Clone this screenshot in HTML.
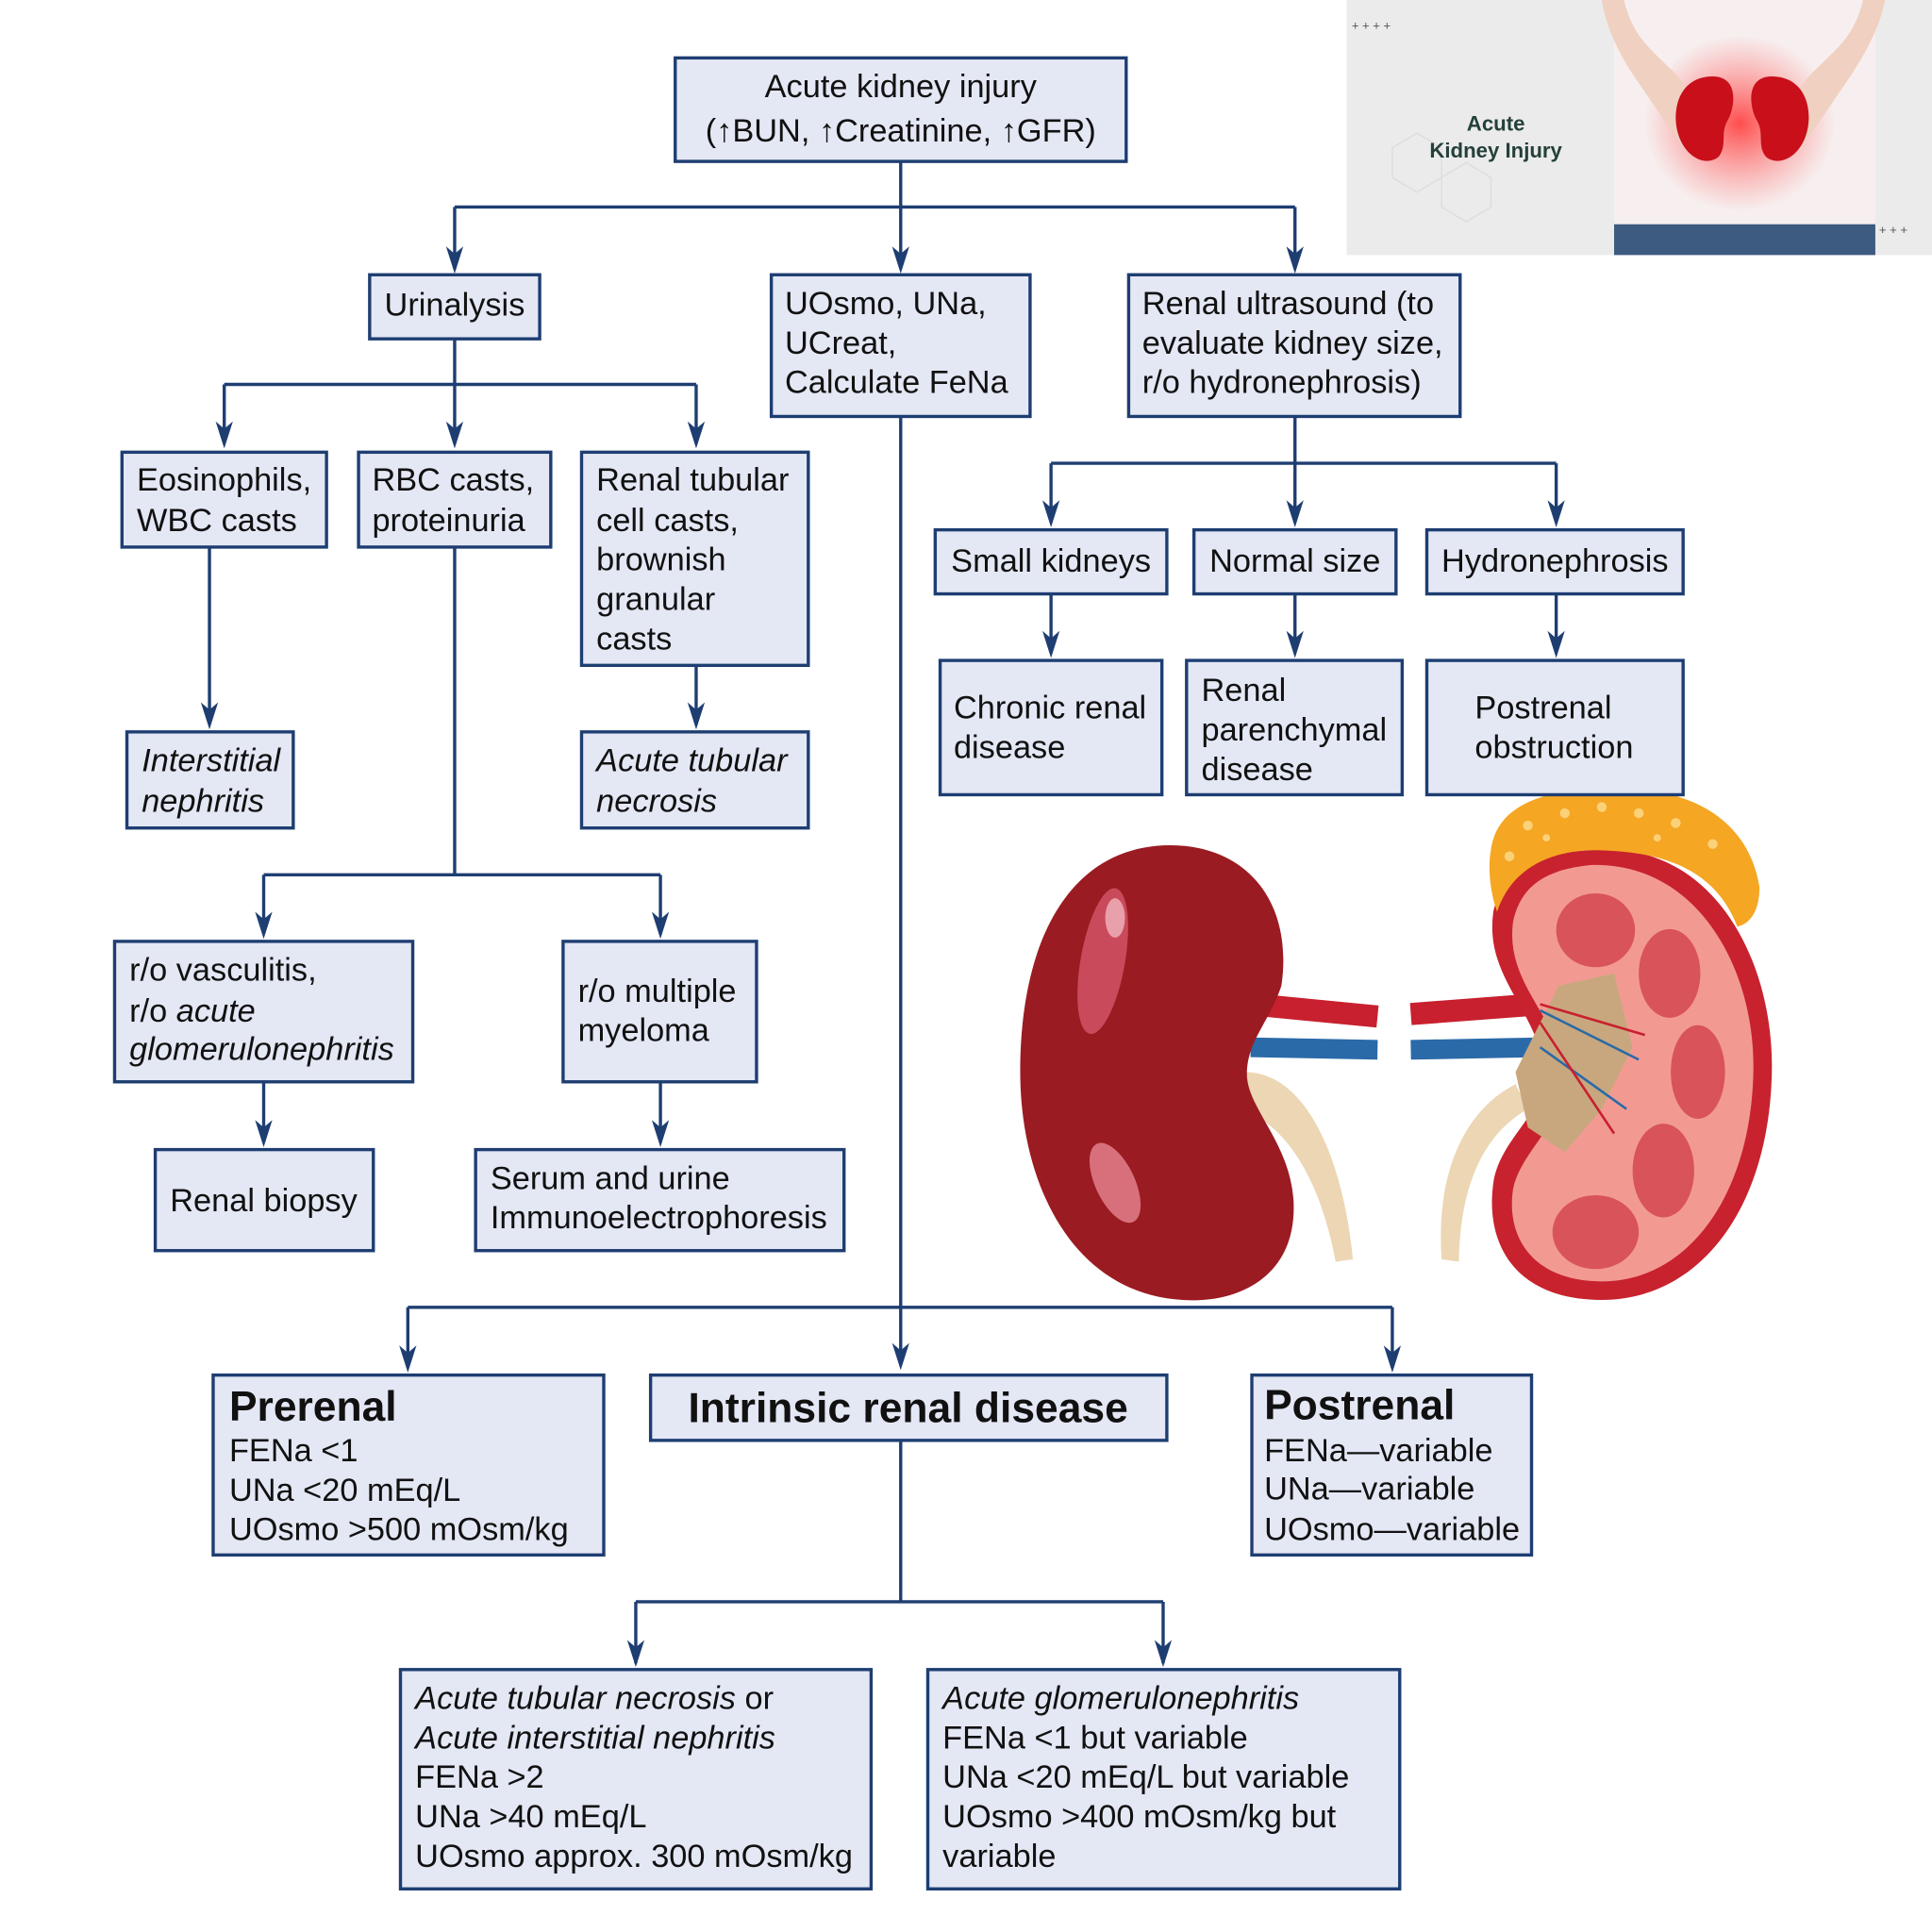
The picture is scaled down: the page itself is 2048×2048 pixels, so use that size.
<!DOCTYPE html>
<html><head><meta charset="utf-8"><style>
html,body{margin:0;padding:0;background:#fff;}
svg{display:block;}
text{font-family:"Liberation Sans",Arial,sans-serif;fill:#111;font-size:26.3px;}
.b{fill:#e4e7f4;stroke:#1e3e72;stroke-width:2.6;}
.l{stroke:#1e3e72;stroke-width:2.6;fill:none;}
.i{font-style:italic;}
.h{font-weight:bold;font-size:34px;}
</style></head><body>
<svg width="2048" height="2048" viewBox="0 0 1568 1568" xmlns="http://www.w3.org/2000/svg">
<defs>
<radialGradient id="glow" cx="0.5" cy="0.5" r="0.5"><stop offset="0" stop-color="#ff3b3b" stop-opacity="0.9"/><stop offset="1" stop-color="#ff6b6b" stop-opacity="0"/></radialGradient>
</defs>

<!-- photo -->
<rect x="1093" y="0" width="475" height="207" fill="#ebebeb"/>
<path d="M1130 120 l20 -12 l20 12 v24 l-20 12 l-20 -12z M1170 144 l20 -12 l20 12 v24 l-20 12 l-20 -12z" fill="none" stroke="#dcdcdc" stroke-width="1"/>
<rect x="1310" y="0" width="212" height="207" fill="#f7efef"/>
<rect x="1310" y="182" width="212" height="25" fill="#3d5a80"/>
<ellipse cx="1412" cy="100" rx="78" ry="72" fill="url(#glow)"/>
<path d="M1300 0 L1318 0 C1325 30 1340 40 1360 60 C1372 72 1380 95 1378 120 L1368 122 C1352 100 1342 85 1325 60 C1312 40 1303 20 1300 0Z" fill="#f0d0c0"/>
<path d="M1530 0 L1512 0 C1505 30 1490 40 1470 60 C1458 72 1448 95 1450 120 L1460 122 C1476 100 1486 85 1503 60 C1516 40 1526 20 1530 0Z" fill="#f0d0c0"/>
<path d="M1390 62 C1365 62 1357 85 1361 105 C1366 128 1385 136 1395 127 C1402 118 1396 108 1402 98 C1408 88 1412 62 1390 62Z" fill="#c80f1a"/>
<path d="M1438 62 C1463 62 1471 85 1467 105 C1462 128 1443 136 1433 127 C1426 118 1432 108 1426 98 C1420 88 1416 62 1438 62Z" fill="#c80f1a"/>
<text x="1214" y="106" text-anchor="middle" style="font-size:17px;font-weight:bold;fill:#24403a">Acute</text>
<text x="1214" y="128" text-anchor="middle" style="font-size:17px;font-weight:bold;fill:#24403a">Kidney Injury</text>
<text x="1097" y="24" style="font-size:10px;fill:#555">+ + + +</text>
<text x="1525" y="190" style="font-size:10px;fill:#555">+ + +</text>

<!-- kidneys illustration -->
<path d="M1015 815 L1118 825" stroke="#c8202e" stroke-width="18" fill="none"/>
<path d="M1015 850 L1118 852" stroke="#2a6aa8" stroke-width="16" fill="none"/>
<path d="M1010 870 C1060 870 1090 940 1098 1022 L1084 1024 C1070 950 1040 910 1005 900Z" fill="#ecd6b4"/>
<path d="M950 686 C1010 686 1050 730 1040 800 C1030 830 1012 845 1012 872 C1012 900 1050 930 1050 980 C1050 1040 1000 1058 960 1055 C870 1050 828 960 828 870 C828 760 870 686 950 686Z" fill="#9b1b22"/>
<ellipse cx="895" cy="780" rx="18" ry="60" fill="#c94a5a" transform="rotate(10 895 780)"/>
<ellipse cx="905" cy="960" rx="16" ry="35" fill="#d8707c" transform="rotate(-25 905 960)"/>
<ellipse cx="905" cy="745" rx="8" ry="16" fill="#e8a0aa"/>
<path d="M1145 823 L1250 815" stroke="#c8202e" stroke-width="18" fill="none"/>
<path d="M1145 852 L1250 850" stroke="#2a6aa8" stroke-width="16" fill="none"/>
<path d="M1170 1022 C1165 950 1190 900 1230 880 L1240 900 C1205 920 1185 960 1184 1024Z" fill="#ecd6b4"/>
<path d="M1290 690 C1390 680 1440 780 1438 870 C1436 980 1380 1055 1300 1055 C1230 1055 1205 1010 1212 960 C1218 920 1262 900 1252 860 C1242 815 1205 790 1212 740 C1220 705 1250 692 1290 690Z" fill="#c8222e"/>
<path d="M1292 702 C1380 700 1425 790 1423 870 C1421 970 1370 1040 1300 1040 C1245 1040 1222 1005 1228 965 C1235 930 1280 905 1268 860 C1258 820 1222 795 1228 748 C1235 715 1260 705 1292 702Z" fill="#f29a92"/>
<ellipse cx="1295" cy="755" rx="32" ry="30" fill="#d9535a"/>
<ellipse cx="1355" cy="790" rx="25" ry="36" fill="#d9535a"/>
<ellipse cx="1378" cy="870" rx="22" ry="38" fill="#d9535a"/>
<ellipse cx="1350" cy="950" rx="25" ry="38" fill="#d9535a"/>
<ellipse cx="1295" cy="1000" rx="35" ry="30" fill="#d9535a"/>
<path d="M1265 800 L1310 790 L1325 850 L1300 900 L1270 935 L1240 915 L1230 870 Z" fill="#c9a77e"/>
<path d="M1250 820 L1330 860 M1250 850 L1320 900" stroke="#2a6aa8" stroke-width="2" fill="none"/>
<path d="M1250 815 L1335 840 M1250 830 L1310 920" stroke="#c8202e" stroke-width="2" fill="none"/>
<path d="M1210 690 C1215 650 1260 638 1320 640 C1380 642 1420 670 1428 720 C1428 740 1420 750 1410 752 C1390 700 1340 690 1290 690 C1250 692 1225 710 1215 740 C1208 720 1208 700 1210 690Z" fill="#f5a623"/>
<g fill="#fbd27a"><circle cx="1240" cy="670" r="4"/><circle cx="1270" cy="660" r="4"/><circle cx="1300" cy="655" r="4"/><circle cx="1330" cy="660" r="4"/><circle cx="1360" cy="668" r="4"/><circle cx="1390" cy="685" r="4"/><circle cx="1225" cy="695" r="4"/><circle cx="1255" cy="680" r="3"/><circle cx="1345" cy="680" r="3"/></g>

<!-- connectors -->
<g class="l">
<path d="M731 131V168M369 168H1051M369 168V218M731 168V218M1051 168V218"/>
<path d="M369 275V312M182 312H565M182 312V360M369 312V360M565 312V360"/>
<path d="M170 444V588M565 540V588"/>
<path d="M369 444V710M214 710H536M214 710V758M536 710V758"/>
<path d="M214 878V927M536 878V927"/>
<path d="M1051 338V376M853 376H1263M853 376V424M1051 376V424M1263 376V424"/>
<path d="M853 482V530M1051 482V530M1263 482V530"/>
<path d="M731 338V1108M331 1061H1130M331 1061V1110M1130 1061V1110"/>
<path d="M731 1169V1300M516 1300H944M516 1300V1350M944 1300V1350"/>
</g>
<g fill="#1e3e72">
<path d="M362 200L369 222L376 200L369 206Z"/><path d="M724 200L731 222L738 200L731 206Z"/><path d="M1044 200L1051 222L1058 200L1051 206Z"/>
<path d="M175 342L182 364L189 342L182 348Z"/><path d="M362 342L369 364L376 342L369 348Z"/><path d="M558 342L565 364L572 342L565 348Z"/>
<path d="M163 570L170 592L177 570L170 576Z"/><path d="M558 570L565 592L572 570L565 576Z"/>
<path d="M207 740L214 762L221 740L214 746Z"/><path d="M529 740L536 762L543 740L536 746Z"/>
<path d="M207 909L214 931L221 909L214 915Z"/><path d="M529 909L536 931L543 909L536 915Z"/>
<path d="M846 406L853 428L860 406L853 412Z"/><path d="M1044 406L1051 428L1058 406L1051 412Z"/><path d="M1256 406L1263 428L1270 406L1263 412Z"/>
<path d="M846 512L853 534L860 512L853 518Z"/><path d="M1044 512L1051 534L1058 512L1051 518Z"/><path d="M1256 512L1263 534L1270 512L1263 518Z"/>
<path d="M724 1090L731 1112L738 1090L731 1096Z"/><path d="M324 1092L331 1114L338 1092L331 1098Z"/><path d="M1123 1092L1130 1114L1137 1092L1130 1098Z"/>
<path d="M509 1331L516 1353L523 1331L516 1337Z"/><path d="M937 1331L944 1353L951 1331L944 1337Z"/>
</g>

<!-- boxes -->
<rect class="b" x="548" y="47" width="366" height="84"/>
<text x="731" y="79" text-anchor="middle">Acute kidney injury</text>
<text x="731" y="115" text-anchor="middle">(↑BUN, ↑Creatinine, ↑GFR)</text>

<rect class="b" x="300" y="223" width="138" height="52"/>
<text x="369" y="256" text-anchor="middle">Urinalysis</text>

<rect class="b" x="626" y="223" width="210" height="115"/>
<text x="637" y="255">UOsmo, UNa,</text><text x="637" y="287">UCreat,</text><text x="637" y="319">Calculate FeNa</text>

<rect class="b" x="916" y="223" width="269" height="115"/>
<text x="927" y="255">Renal ultrasound (to</text><text x="927" y="287">evaluate kidney size,</text><text x="927" y="319">r/o hydronephrosis)</text>

<rect class="b" x="99" y="367" width="166" height="77"/>
<text x="111" y="398">Eosinophils,</text><text x="111" y="431">WBC casts</text>

<rect class="b" x="291" y="367" width="156" height="77"/>
<text x="302" y="398">RBC casts,</text><text x="302" y="431">proteinuria</text>

<rect class="b" x="472" y="367" width="184" height="173"/>
<text x="484" y="398">Renal tubular</text><text x="484" y="431">cell casts,</text><text x="484" y="463">brownish</text><text x="484" y="495">granular</text><text x="484" y="527">casts</text>

<rect class="b" x="103" y="594" width="135" height="78"/>
<text class="i" x="115" y="626">Interstitial</text><text class="i" x="115" y="659">nephritis</text>

<rect class="b" x="472" y="594" width="184" height="78"/>
<text class="i" x="484" y="626">Acute tubular</text><text class="i" x="484" y="659">necrosis</text>

<rect class="b" x="93" y="764" width="242" height="114"/>
<text x="105" y="796">r/o vasculitis,</text><text x="105" y="829">r/o <tspan class="i">acute</tspan></text><text class="i" x="105" y="860">glomerulonephritis</text>

<rect class="b" x="457" y="764" width="157" height="114"/>
<text x="469" y="813">r/o multiple</text><text x="469" y="845">myeloma</text>

<rect class="b" x="126" y="933" width="177" height="82"/>
<text x="214" y="983" text-anchor="middle">Renal biopsy</text>

<rect class="b" x="386" y="933" width="299" height="82"/>
<text x="398" y="965">Serum and urine</text><text x="398" y="997">Immunoelectrophoresis</text>

<rect class="b" x="759" y="430" width="188" height="52"/>
<text x="853" y="464" text-anchor="middle">Small kidneys</text>
<rect class="b" x="969" y="430" width="164" height="52"/>
<text x="1051" y="464" text-anchor="middle">Normal size</text>
<rect class="b" x="1158" y="430" width="208" height="52"/>
<text x="1262" y="464" text-anchor="middle">Hydronephrosis</text>

<rect class="b" x="763" y="536" width="180" height="109"/>
<text x="774" y="583">Chronic renal</text><text x="774" y="615">disease</text>
<rect class="b" x="963" y="536" width="175" height="109"/>
<text x="975" y="569">Renal</text><text x="975" y="601">parenchymal</text><text x="975" y="633">disease</text>
<rect class="b" x="1158" y="536" width="208" height="109"/>
<text x="1197" y="583">Postrenal</text><text x="1197" y="615">obstruction</text>

<rect class="b" x="173" y="1116" width="317" height="146"/>
<text class="h" x="186" y="1153">Prerenal</text>
<text x="186" y="1186">FENa &lt;1</text><text x="186" y="1218">UNa &lt;20 mEq/L</text><text x="186" y="1250">UOsmo &gt;500 mOsm/kg</text>

<rect class="b" x="528" y="1116" width="419" height="53"/>
<text class="h" x="737" y="1154" text-anchor="middle">Intrinsic renal disease</text>

<rect class="b" x="1016" y="1116" width="227" height="146"/>
<text class="h" x="1026" y="1152">Postrenal</text>
<text x="1026" y="1186">FENa—variable</text><text x="1026" y="1217">UNa—variable</text><text x="1026" y="1250">UOsmo—variable</text>

<rect class="b" x="325" y="1355" width="382" height="178"/>
<text class="i" x="337" y="1387">Acute tubular necrosis <tspan style="font-style:normal">or</tspan></text>
<text class="i" x="337" y="1419">Acute interstitial nephritis</text>
<text x="337" y="1451">FENa &gt;2</text><text x="337" y="1483">UNa &gt;40 mEq/L</text><text x="337" y="1515">UOsmo approx. 300 mOsm/kg</text>

<rect class="b" x="753" y="1355" width="383" height="178"/>
<text class="i" x="765" y="1387">Acute glomerulonephritis</text>
<text x="765" y="1419">FENa &lt;1 but variable</text><text x="765" y="1451">UNa &lt;20 mEq/L but variable</text><text x="765" y="1483">UOsmo &gt;400 mOsm/kg but</text><text x="765" y="1515">variable</text>
</svg>
</body></html>
